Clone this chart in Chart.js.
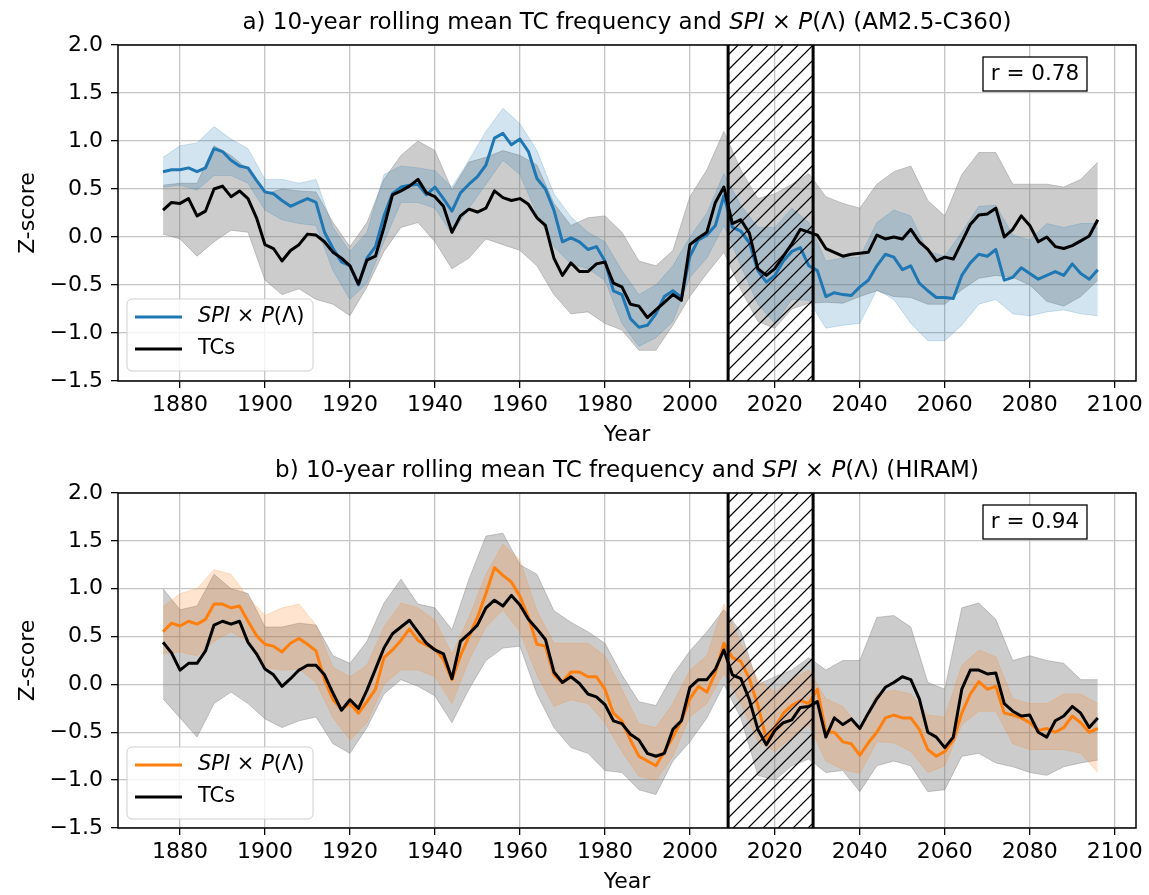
<!DOCTYPE html>
<html>
<head>
<meta charset="utf-8">
<script src="https://cdn.jsdelivr.net/npm/chart.js@4.4.1/dist/chart.umd.min.js"></script>
<style>
  body { margin: 0; background: #fff; }
  #wrap { position: relative; width: 1149px; height: 895px; }
  canvas { position: absolute; left: 0; }
</style>
</head>
<body>
<div id="wrap">
  <canvas id="chartA" width="1149" height="448" style="top:0px"></canvas>
  <canvas id="chartB" width="1149" height="447" style="top:448px"></canvas>
</div>
<script>
const FONT = '"DejaVu Sans", sans-serif';

// x positions: lines every 2 years, spread bands every 4 years
const yearsLine = [];
for (let y = 1876; y <= 2096; y += 2) yearsLine.push(y);
const yearsBand = [];
for (let y = 1876; y <= 2096; y += 4) yearsBand.push(y);

const xTicks = [1880, 1900, 1920, 1940, 1960, 1980, 2000, 2020, 2040, 2060, 2080, 2100];
const yTicks = [-1.5, -1.0, -0.5, 0.0, 0.5, 1.0, 1.5, 2.0];
const hatchYears = [2009, 2029];

// ---- panel a (AM2.5-C360) ----
const aSpi = [
  0.68, 0.70, 0.70, 0.72, 0.68, 0.72, 0.92, 0.89, 0.80, 0.74,
  0.72, 0.59, 0.47, 0.45, 0.38, 0.32, 0.36, 0.40, 0.36, 0.05,
  -0.12, -0.26, -0.30, -0.50, -0.22, -0.10, 0.22, 0.45, 0.52, 0.54,
  0.55, 0.44, 0.52, 0.40, 0.27, 0.46, 0.55, 0.63, 0.75, 1.03,
  1.08, 0.96, 1.02, 0.89, 0.61, 0.50, 0.28, -0.05, -0.01, -0.05,
  -0.13, -0.10, -0.25, -0.56, -0.60, -0.85, -0.94, -0.92, -0.80, -0.62,
  -0.56, -0.63, -0.20, -0.03, 0.02, 0.12, 0.43, 0.10, 0.06, -0.06,
  -0.35, -0.47, -0.40, -0.25, -0.15, -0.11, -0.30, -0.35, -0.62, -0.58,
  -0.60, -0.61, -0.52, -0.45, -0.30, -0.18, -0.21, -0.34, -0.30, -0.48,
  -0.56, -0.63, -0.63, -0.64, -0.40, -0.27, -0.18, -0.20, -0.13, -0.45,
  -0.42, -0.32, -0.38, -0.44, -0.40, -0.36, -0.40, -0.28, -0.38, -0.44,
  -0.34
];
const aTc = [
  0.28, 0.36, 0.35, 0.40, 0.22, 0.27, 0.50, 0.53, 0.42, 0.48,
  0.40, 0.20, -0.08, -0.12, -0.25, -0.14, -0.08, 0.03, 0.02, -0.05,
  -0.16, -0.22, -0.30, -0.49, -0.24, -0.20, 0.10, 0.44, 0.48, 0.53,
  0.60, 0.46, 0.42, 0.32, 0.05, 0.22, 0.29, 0.26, 0.30, 0.48,
  0.41, 0.38, 0.40, 0.34, 0.20, 0.12, -0.22, -0.40, -0.27, -0.36,
  -0.36, -0.28, -0.26, -0.48, -0.52, -0.70, -0.72, -0.84, -0.76, -0.68,
  -0.60, -0.66, -0.08, -0.01, 0.05, 0.36, 0.52, 0.14, 0.18, 0.04,
  -0.33, -0.40, -0.33, -0.20, -0.07, 0.08, 0.05, 0.02, -0.12, -0.16,
  -0.20, -0.18, -0.17, -0.16, 0.02, -0.02, 0.00, -0.02, 0.08, -0.05,
  -0.13, -0.25, -0.21, -0.23, -0.05, 0.13, 0.23, 0.24, 0.30, 0.00,
  0.08, 0.22, 0.12, -0.05, 0.00, -0.10, -0.12, -0.09, -0.04, 0.01,
  0.18
];
const aSpiHi = [
  0.83, 0.95, 0.98, 1.15, 1.02, 0.92, 0.60, 0.60, 0.56, 0.60,
  0.10, -0.15, 0.05, 0.65, 0.74, 0.72, 0.69, 0.52, 0.80, 1.10,
  1.34, 1.18, 0.90, 0.45, 0.21, 0.05, -0.05, -0.35, -0.60, -0.50,
  -0.30, 0.00, 0.25, 0.66, 0.33, 0.10, 0.10, 0.30, 0.15, -0.25,
  -0.22, -0.21, 0.15, 0.28, 0.22, -0.15, -0.20, 0.05, 0.32, 0.33,
  0.02, -0.03, 0.14, 0.10, 0.14, 0.14
];
const aSpiLo = [
  0.52, 0.54, 0.49, 0.64, 0.64, 0.56, 0.28, 0.18, 0.14, 0.12,
  -0.35, -0.65, -0.48, -0.05, 0.36, 0.36, 0.30, 0.03, 0.30, 0.55,
  0.80, 0.65, 0.24, -0.10, -0.28, -0.33, -0.45, -0.90, -1.14, -1.05,
  -0.88, -0.42, -0.22, 0.12, -0.30, -0.70, -0.90, -0.65, -0.66, -0.95,
  -0.92, -0.90, -0.55, -0.65, -0.90, -1.08, -1.08, -0.92, -0.70, -0.65,
  -0.80, -0.82, -0.78, -0.76, -0.80, -0.82
];
const aTcHi = [
  0.54, 0.56, 0.56, 0.95, 0.85, 0.70, 0.45, 0.50, 0.48, 0.47,
  0.15, -0.10, 0.15, 0.60, 0.85, 1.00, 0.90, 0.49, 0.78, 0.83,
  0.90, 0.85, 0.75, 0.35, 0.12, 0.20, 0.22, 0.05, -0.25, -0.30,
  -0.14, 0.42, 0.70, 1.10, 0.70, 0.40, 0.45, 0.55, 0.66, 0.42,
  0.35, 0.30, 0.55, 0.68, 0.74, 0.38, 0.22, 0.65, 0.88, 0.88,
  0.55, 0.55, 0.55, 0.52, 0.60, 0.78
];
const aTcLo = [
  0.03, -0.02, -0.20, -0.05, 0.07, 0.05, -0.45, -0.60, -0.54, -0.65,
  -0.70, -0.82, -0.52, -0.15, 0.10, 0.15, -0.05, -0.33, -0.22, -0.02,
  -0.08, -0.14, -0.30, -0.60, -0.80, -0.78, -0.90, -0.97, -1.18, -1.18,
  -0.92, -0.62, -0.38, -0.16, -0.55, -0.88, -0.95, -0.75, -0.69, -0.68,
  -0.69, -0.62, -0.56, -0.62, -0.63, -0.70, -0.70, -0.55, -0.43, -0.40,
  -0.42, -0.50, -0.67, -0.72, -0.62, -0.45
];

// ---- panel b (HIRAM) ----
const bSpi = [
  0.55, 0.64, 0.61, 0.66, 0.63, 0.68, 0.84, 0.84, 0.80, 0.82,
  0.66, 0.51, 0.42, 0.40, 0.34, 0.43, 0.48, 0.42, 0.35, 0.05,
  -0.16, -0.26, -0.20, -0.30, -0.18, -0.05, 0.28, 0.36, 0.46, 0.58,
  0.46, 0.41, 0.37, 0.26, 0.05, 0.30, 0.50, 0.70, 0.95, 1.22,
  1.14, 1.07, 0.92, 0.70, 0.42, 0.40, 0.10, 0.02, 0.13, 0.13,
  0.08, 0.08, -0.05, -0.30, -0.38, -0.58, -0.75, -0.80, -0.85, -0.70,
  -0.55, -0.38, -0.15, -0.02, -0.08, 0.12, 0.43, 0.28, 0.24, 0.06,
  -0.22, -0.57, -0.45, -0.30, -0.22, -0.17, -0.20, -0.05, -0.50, -0.50,
  -0.60, -0.62, -0.74, -0.61, -0.50, -0.35, -0.32, -0.35, -0.35, -0.47,
  -0.68, -0.75, -0.70, -0.58, -0.30, -0.10, 0.03, -0.05, -0.02, -0.30,
  -0.32, -0.35, -0.40, -0.48, -0.46, -0.50, -0.45, -0.33, -0.40, -0.50,
  -0.46
];
const bTc = [
  0.44, 0.33, 0.15, 0.22, 0.22, 0.35, 0.62, 0.66, 0.63, 0.66,
  0.44, 0.32, 0.16, 0.10, -0.02, 0.06, 0.15, 0.20, 0.20, 0.10,
  -0.09, -0.27, -0.16, -0.25, -0.06, 0.16, 0.38, 0.53, 0.60, 0.67,
  0.55, 0.43, 0.36, 0.32, 0.06, 0.45, 0.53, 0.62, 0.80, 0.88,
  0.82, 0.93, 0.83, 0.68, 0.58, 0.47, 0.13, 0.02, 0.08, 0.01,
  -0.10, -0.13, -0.21, -0.38, -0.41, -0.52, -0.58, -0.72, -0.75, -0.72,
  -0.47, -0.38, -0.03, 0.05, 0.05, 0.16, 0.36, 0.10, 0.06, -0.16,
  -0.47, -0.63, -0.48, -0.40, -0.37, -0.24, -0.23, -0.18, -0.55, -0.35,
  -0.42, -0.36, -0.46, -0.30, -0.15, -0.03, 0.02, 0.08, 0.05, -0.15,
  -0.50, -0.55, -0.66, -0.55, -0.05, 0.15, 0.15, 0.11, 0.12, -0.20,
  -0.28, -0.33, -0.32, -0.50, -0.55, -0.38, -0.33, -0.23, -0.30, -0.45,
  -0.35
];
const bSpiHi = [
  0.81, 0.95, 1.00, 1.20, 1.15, 0.91, 0.72, 0.80, 0.84, 0.62,
  0.18, 0.08, 0.20, 0.60, 0.85, 0.80, 0.67, 0.32, 0.70, 1.15,
  1.47, 1.30, 0.77, 0.43, 0.43, 0.43, 0.30, -0.05, -0.41, -0.45,
  -0.20, 0.15, 0.30, 0.84, 0.43, 0.05, -0.08, 0.05, 0.15, -0.15,
  -0.23, -0.45, -0.10, -0.06, -0.10, -0.32, -0.34, 0.20, 0.36, 0.29,
  -0.15, -0.20, -0.20, -0.10, -0.10, -0.20
];
const bSpiLo = [
  0.32, 0.34, 0.30, 0.45, 0.55, 0.45, 0.18, 0.15, 0.16, 0.02,
  -0.35, -0.58, -0.40, 0.00, 0.15, 0.15, 0.08, -0.20, 0.25, 0.60,
  0.78, 0.55, 0.10, -0.23, -0.16, -0.20, -0.40, -0.70, -0.96, -1.00,
  -0.75, -0.34, -0.20, 0.12, -0.20, -0.60, -0.70, -0.55, -0.42, -0.80,
  -0.89, -0.93, -0.60, -0.61, -0.70, -0.92, -0.85, -0.42, -0.28, -0.28,
  -0.62, -0.68, -0.68, -0.68, -0.72, -0.92
];
const bTcHi = [
  1.00, 0.78, 0.82, 1.15, 1.00, 0.95, 0.60, 0.60, 0.64, 0.62,
  0.30, 0.22, 0.45, 0.85, 1.10, 0.84, 0.80, 0.57, 1.10, 1.55,
  1.58, 1.25, 1.15, 0.77, 0.65, 0.55, 0.43, 0.10, -0.18, -0.22,
  0.10, 0.35, 0.55, 0.78, 0.55, 0.00, 0.08, 0.15, 0.28, 0.15,
  0.25, 0.25, 0.70, 0.72, 0.60, 0.02, -0.05, 0.80, 0.85, 0.68,
  0.25, 0.30, 0.25, 0.22, 0.05, 0.05
];
const bTcLo = [
  -0.15, -0.35, -0.55, -0.20, -0.08, -0.20, -0.36, -0.45, -0.38, -0.34,
  -0.62, -0.72, -0.45, -0.10, 0.05, -0.02, -0.12, -0.40, -0.05, 0.25,
  0.38, 0.40, -0.10, -0.45, -0.66, -0.72, -0.90, -0.92, -1.10, -1.15,
  -0.80, -0.60, -0.35, 0.00, -0.35, -0.95, -1.00, -0.85, -0.78, -0.92,
  -0.90, -1.12, -0.85, -0.80, -0.85, -1.12, -1.10, -0.75, -0.72, -0.82,
  -0.86, -0.92, -0.95, -0.86, -0.82, -0.79
];

function pts(xs, ys) {
  return xs.map((x, i) => ({ x: x, y: ys[i] }));
}

function fontStr(size, italic) {
  return (italic ? 'italic ' : '') + size + 'px ' + FONT;
}

// draw text made of upright and italic pieces
function drawMixed(ctx, segs, x, y, size, centered) {
  let total = 0;
  segs.forEach(s => {
    ctx.font = fontStr(size, s.i);
    s.w = ctx.measureText(s.t).width;
    total += s.w;
  });
  let cx = centered ? x - total / 2 : x;
  ctx.textAlign = 'left';
  ctx.textBaseline = 'middle';
  ctx.fillStyle = '#000';
  segs.forEach(s => {
    ctx.font = fontStr(size, s.i);
    ctx.fillText(s.t, cx, y);
    cx += s.w;
  });
}

function spiSegs(before, after) {
  return [
    { t: before, i: false }, { t: 'SPI', i: true }, { t: ' \u00d7 ', i: false },
    { t: 'P', i: true }, { t: '(\u039b)' + after, i: false }
  ];
}

const decorPlugin = {
  id: 'decor',
  afterDatasetsDraw(chart, args, opts) {
    const { ctx, chartArea: a, scales } = chart;
    const x0 = scales.x.getPixelForValue(hatchYears[0]);
    const x1 = scales.x.getPixelForValue(hatchYears[1]);
    ctx.save();
    ctx.beginPath();
    ctx.rect(x0, a.top, x1 - x0, a.bottom - a.top);
    ctx.clip();
    ctx.beginPath();
    ctx.strokeStyle = '#000';
    ctx.lineWidth = 1.2;
    const h = a.bottom - a.top;
    for (let k = -h - 20; k < (x1 - x0) + 20; k += 15) {
      ctx.moveTo(x0 + k, a.bottom);
      ctx.lineTo(x0 + k + h, a.top);
    }
    ctx.stroke();
    ctx.restore();

    ctx.save();
    ctx.strokeStyle = '#000';
    ctx.lineWidth = 3;
    ctx.beginPath();
    ctx.moveTo(x0, a.top); ctx.lineTo(x0, a.bottom);
    ctx.moveTo(x1, a.top); ctx.lineTo(x1, a.bottom);
    ctx.stroke();
    ctx.restore();
  },
  afterDraw(chart, args, opts) {
    const { ctx, chartArea: a } = chart;
    ctx.save();
    // frame
    ctx.strokeStyle = '#000';
    ctx.lineWidth = 1.5;
    ctx.strokeRect(a.left, a.top, a.right - a.left, a.bottom - a.top);

    // title
    drawMixed(ctx, opts.title, (a.left + a.right) / 2, 23, 23, true);

    // legend
    const lx = 127, ly = 299, lw = 186, lh = 72;
    ctx.beginPath();
    ctx.roundRect(lx, ly, lw, lh, 5);
    ctx.fillStyle = 'rgba(255,255,255,0.8)';
    ctx.fill();
    ctx.strokeStyle = '#cfcfcf';
    ctx.lineWidth = 1;
    ctx.stroke();
    ctx.lineWidth = 3;
    ctx.strokeStyle = opts.color;
    ctx.beginPath(); ctx.moveTo(135, 317); ctx.lineTo(182, 317); ctx.stroke();
    ctx.strokeStyle = '#000';
    ctx.beginPath(); ctx.moveTo(135, 349); ctx.lineTo(182, 349); ctx.stroke();
    drawMixed(ctx, spiSegs('', ''), 198, 317, 21, false);
    drawMixed(ctx, [{ t: 'TCs', i: false }], 198, 349, 21, false);

    // correlation box
    ctx.fillStyle = '#fff';
    ctx.fillRect(983, 57, 104, 34);
    ctx.strokeStyle = '#000';
    ctx.lineWidth = 1.3;
    ctx.strokeRect(983, 57, 104, 34);
    ctx.fillStyle = '#000';
    ctx.font = fontStr(21.5, false);
    ctx.textAlign = 'center';
    ctx.textBaseline = 'middle';
    ctx.fillText(opts.r, 1035, 74);
    ctx.restore();
  }
};

function makePanel(id, p) {
  const datasets = [
    { data: pts(yearsBand, p.tcLo), borderColor: 'rgba(128,128,128,0.4)', borderWidth: 1,
      fill: false, order: 5 },
    { data: pts(yearsBand, p.tcHi), borderColor: 'rgba(128,128,128,0.4)', borderWidth: 1,
      fill: '-1', backgroundColor: 'rgba(128,128,128,0.4)', order: 4 },
    { data: pts(yearsBand, p.spiLo), borderColor: p.band, borderWidth: 1,
      fill: false, order: 3 },
    { data: pts(yearsBand, p.spiHi), borderColor: p.band, borderWidth: 1,
      fill: '-1', backgroundColor: p.band, order: 2 },
    { data: pts(yearsLine, p.spi), borderColor: p.color, borderWidth: 3, fill: false, order: 1 },
    { data: pts(yearsLine, p.tc), borderColor: '#000', borderWidth: 3, fill: false, order: 0 }
  ];
  const tickFont = { family: FONT, size: 22 };
  return new Chart(document.getElementById(id), {
    type: 'line',
    data: { datasets: datasets },
    options: {
      responsive: false,
      animation: false,
      events: [],
      layout: { padding: { left: 0, right: 13, top: 45, bottom: 0 } },
      elements: {
        point: { radius: 0 },
        line: { tension: 0, borderJoinStyle: 'round' }
      },
      scales: {
        x: {
          type: 'linear',
          min: 1865.4,
          max: 2105,
          afterBuildTicks: s => { s.ticks = xTicks.map(v => ({ value: v })); },
          afterFit: s => { s.height = 67; },
          grid: { color: '#c4c4c4', lineWidth: 1.3, tickColor: '#000', tickLength: 7, tickWidth: 1.3 },
          border: { display: false },
          ticks: { color: '#000', font: tickFont, padding: 4, maxRotation: 0, autoSkip: false,
                   callback: v => String(v) },
          title: { display: true, text: 'Year', color: '#000', font: tickFont,
                   padding: { top: 0, bottom: 0 } }
        },
        y: {
          min: -1.5,
          max: 2.0,
          afterBuildTicks: s => { s.ticks = yTicks.map(v => ({ value: v })); },
          afterFit: s => { s.width = 118; },
          grid: { color: '#c4c4c4', lineWidth: 1.3, tickColor: '#000', tickLength: 7, tickWidth: 1.3 },
          border: { display: false },
          ticks: { color: '#000', font: tickFont, padding: 8,
                   callback: v => v.toFixed(1).replace('-', '\u2212') },
          title: { display: true, text: 'Z-score', color: '#000', font: tickFont,
                   padding: { top: 15, bottom: 0 } }
        }
      },
      plugins: {
        legend: { display: false },
        title: { display: false },
        tooltip: { enabled: false },
        decor: { title: p.title, color: p.color, r: p.r }
      }
    },
    plugins: [decorPlugin]
  });
}

makePanel('chartA', {
  spi: aSpi, tc: aTc, spiHi: aSpiHi, spiLo: aSpiLo, tcHi: aTcHi, tcLo: aTcLo,
  color: '#1f77b4', band: 'rgba(31,119,180,0.2)', r: 'r = 0.78',
  title: spiSegs('a) 10-year rolling mean TC frequency and ', ' (AM2.5-C360)')
});
makePanel('chartB', {
  spi: bSpi, tc: bTc, spiHi: bSpiHi, spiLo: bSpiLo, tcHi: bTcHi, tcLo: bTcLo,
  color: '#ff7f0e', band: 'rgba(255,127,14,0.2)', r: 'r = 0.94',
  title: spiSegs('b) 10-year rolling mean TC frequency and ', ' (HIRAM)')
});
</script>
</body>
</html>
